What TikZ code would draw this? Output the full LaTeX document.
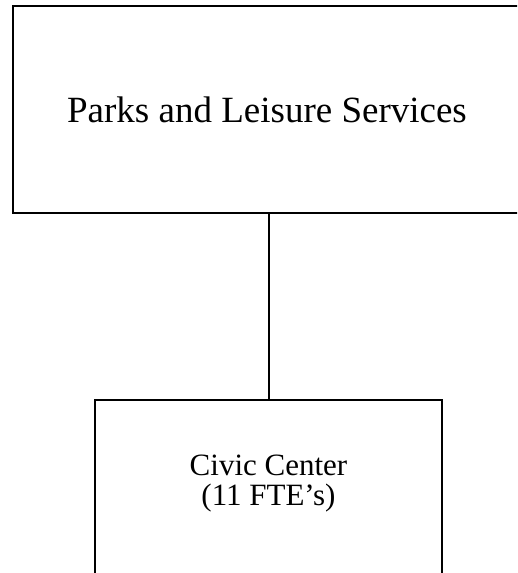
\documentclass[tikz,border=0pt]{standalone}
\usepackage{fontspec}
\setmainfont{Liberation Serif}
\usetikzlibrary{positioning}
\tikzset{
  orgbox/.style={draw, line width=2pt, rectangle, inner sep=0pt},
  orgtext/.style={align=center, inner sep=0pt},
  link/.style={line width=2pt},
}
\begin{document}
\begin{tikzpicture}[x=1pt,y=-1pt]
  \useasboundingbox (0,0) rectangle (517,573);
  \clip (0,0) rectangle (517,573);
  % department
  \node[orgbox, minimum width=508pt, minimum height=207pt,
    font=\fontsize{37}{44}\selectfont] (parks) at (267,109.5) {Parks and Leisure Services};
  % unit below it
  \node[orgbox, minimum width=347pt, minimum height=190pt, anchor=north] (civic) at (268.5,399) {};
  \node[orgtext, font=\fontsize{31}{30}\selectfont] (civictxt) at (268.5,483.5) {Civic Center\\(11 FTE's)};
  \draw[link] (civic.north) -- (civic.north |- parks.south);
\end{tikzpicture}
\end{document}
